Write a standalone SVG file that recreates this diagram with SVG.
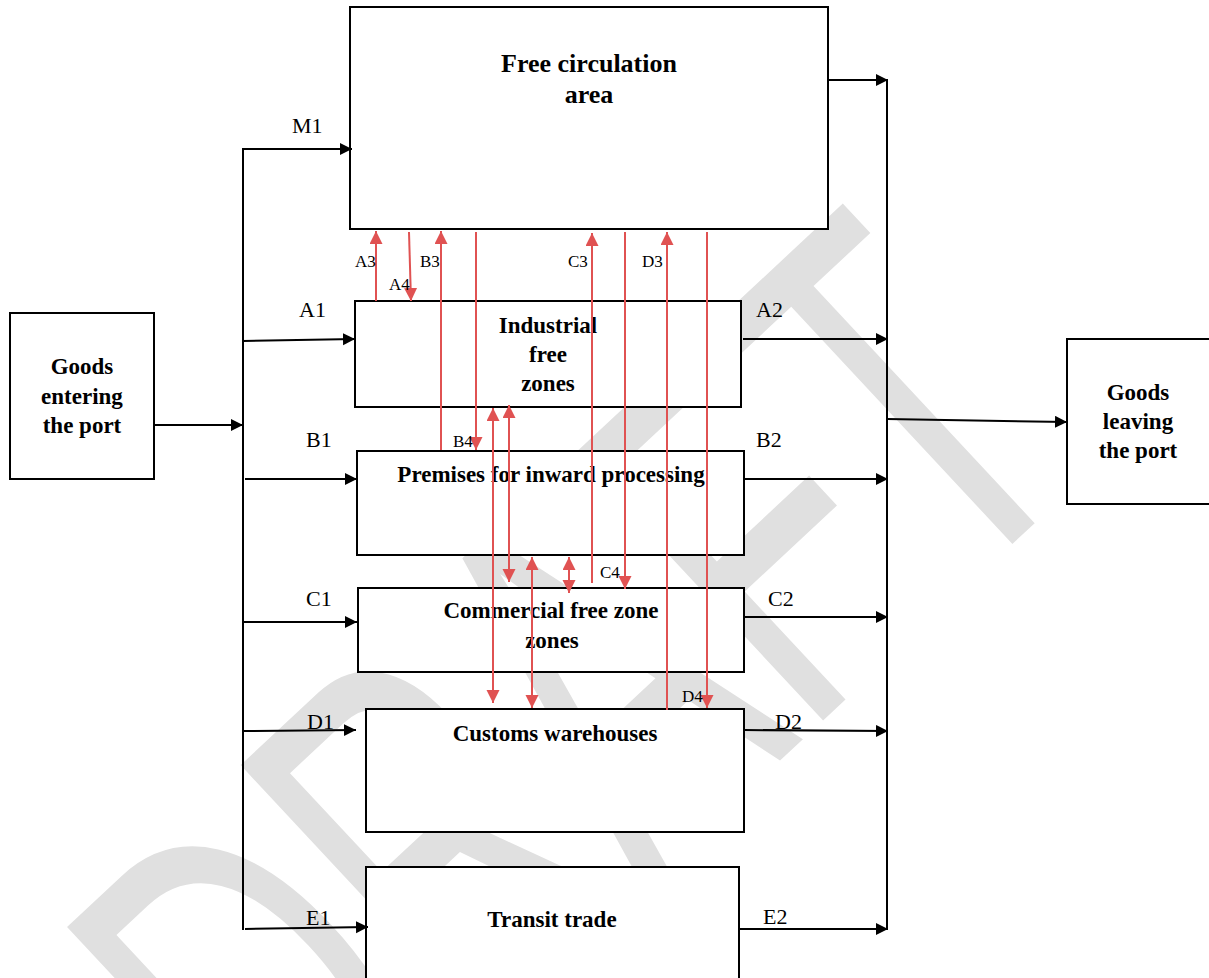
<svg xmlns="http://www.w3.org/2000/svg" width="1209" height="978" viewBox="0 0 1209 978">
<style>
.box{fill:#ffffff;stroke:#000000;stroke-width:2}
.t{font-family:"Liberation Serif","Times New Roman",serif;font-weight:bold;font-size:23px;fill:#000000;text-anchor:middle}
.lb{font-family:"Liberation Serif","Times New Roman",serif;font-size:22px;fill:#000000}
.sl{font-family:"Liberation Serif","Times New Roman",serif;font-size:17px;fill:#000000}
.bk{fill:none;stroke:#000000;stroke-width:2}
.bka{fill:none;stroke:#000000;stroke-width:2;marker-end:url(#ah)}
.rd{fill:none;stroke:#E05252;stroke-width:2;marker-end:url(#rh)}
.rd2{fill:none;stroke:#E05252;stroke-width:2;marker-end:url(#rh);marker-start:url(#rh)}
.wm{font-family:"Liberation Sans",Arial,sans-serif;font-size:530px;fill:#e0e0e0}
</style>
<defs>
<marker id="ah" markerUnits="userSpaceOnUse" markerWidth="13" markerHeight="13" refX="12" refY="6" orient="auto" viewBox="0 0 13 13">
<path d="M0,0 L12,6 L0,12 z" fill="#000000"/>
</marker>
<marker id="rh" markerUnits="userSpaceOnUse" markerWidth="14" markerHeight="14" refX="13" refY="6.5" orient="auto-start-reverse" viewBox="0 0 14 14">
<path d="M0,0 L13,6.5 L0,13 z" fill="#E05252"/>
</marker>
</defs>
<rect x="0" y="0" width="1209" height="978" fill="#ffffff"/>
<g id="watermark">
<text class="wm" transform="translate(296,1212) rotate(-43) scale(0.62,1)">DRAFT</text>
</g>
<g id="node-goods-in">
<rect class="box" x="10" y="313" width="144" height="166"/>
<text class="t" x="82" y="374">Goods</text>
<text class="t" x="82" y="404">entering</text>
<text class="t" x="82" y="433">the port</text>
</g>
<g id="node-free-circulation">
<rect class="box" x="350" y="7" width="478" height="222"/>
<text class="t" x="589" y="72" style="font-size:26px">Free circulation</text>
<text class="t" x="589" y="103" style="font-size:26px">area</text>
</g>
<g id="node-industrial">
<rect class="box" x="355" y="301" width="386" height="106"/>
<text class="t" x="548" y="333">Industrial</text>
<text class="t" x="548" y="362">free</text>
<text class="t" x="548" y="391">zones</text>
</g>
<g id="node-premises">
<rect class="box" x="357" y="451" width="387" height="104"/>
<text class="t" x="551" y="482">Premises for inward processing</text>
</g>
<g id="node-commercial">
<rect class="box" x="358" y="588" width="386" height="84"/>
<text class="t" x="551" y="618">Commercial free zone</text>
<text class="t" x="552" y="648">zones</text>
</g>
<g id="node-customs">
<rect class="box" x="366" y="709" width="378" height="123"/>
<text class="t" x="555" y="741">Customs warehouses</text>
</g>
<g id="node-transit">
<rect class="box" x="366" y="867" width="373" height="130"/>
<text class="t" x="552" y="927">Transit trade</text>
</g>
<g id="node-goods-out">
<rect class="box" x="1067" y="339" width="160" height="165"/>
<text class="t" x="1138" y="400">Goods</text>
<text class="t" x="1138" y="429">leaving</text>
<text class="t" x="1138" y="458">the port</text>
</g>
<g id="connectors">
<line class="bk" x1="243" y1="148" x2="243" y2="930"/>
<line class="bka" x1="154" y1="425" x2="243" y2="425"/>
<line class="bka" x1="243" y1="149" x2="352" y2="149"/>
<line class="bka" x1="243" y1="341" x2="355" y2="339"/>
<line class="bka" x1="245" y1="479" x2="357" y2="479"/>
<line class="bka" x1="243" y1="622" x2="357" y2="622"/>
<line class="bka" x1="243" y1="731" x2="356" y2="730"/>
<line class="bka" x1="245" y1="929" x2="368" y2="927"/>
<line class="bk" x1="887" y1="80" x2="887" y2="930"/>
<line class="bka" x1="828" y1="80" x2="888" y2="80"/>
<line class="bka" x1="743" y1="339" x2="888" y2="339"/>
<line class="bka" x1="744" y1="479" x2="888" y2="479"/>
<line class="bka" x1="744" y1="617" x2="888" y2="617"/>
<line class="bka" x1="744" y1="730" x2="888" y2="731"/>
<line class="bka" x1="739" y1="929" x2="888" y2="929"/>
<line class="bka" x1="887" y1="419" x2="1067" y2="422"/>
<line class="rd" x1="376" y1="301" x2="376" y2="231"/>
<line class="rd" x1="409" y1="232" x2="411" y2="301"/>
<line class="rd" x1="441" y1="450" x2="441" y2="231"/>
<line class="rd" x1="476" y1="232" x2="476" y2="450"/>
<line class="rd2" x1="493" y1="408" x2="493" y2="703"/>
<line class="rd2" x1="509" y1="405" x2="509" y2="582"/>
<line class="rd2" x1="532" y1="557" x2="532" y2="708"/>
<line class="rd2" x1="569" y1="557" x2="569" y2="593"/>
<line class="rd" x1="592" y1="583" x2="592" y2="233"/>
<line class="rd" x1="625" y1="232" x2="625" y2="589"/>
<line class="rd" x1="667" y1="710" x2="667" y2="232"/>
<line class="rd" x1="707" y1="232" x2="707" y2="708"/>
</g>
<g id="labels">
<text class="lb" x="292" y="133">M1</text>
<text class="lb" x="299" y="317">A1</text>
<text class="lb" x="306" y="447">B1</text>
<text class="lb" x="306" y="606">C1</text>
<text class="lb" x="307" y="729">D1</text>
<text class="lb" x="306" y="925">E1</text>
<text class="lb" x="756" y="317">A2</text>
<text class="lb" x="756" y="447">B2</text>
<text class="lb" x="768" y="606">C2</text>
<text class="lb" x="775" y="729">D2</text>
<text class="lb" x="763" y="924">E2</text>
<text class="sl" x="355" y="267">A3</text>
<text class="sl" x="389" y="290">A4</text>
<text class="sl" x="420" y="267">B3</text>
<text class="sl" x="568" y="267">C3</text>
<text class="sl" x="642" y="267">D3</text>
<text class="sl" x="453" y="447">B4</text>
<text class="sl" x="600" y="578">C4</text>
<text class="sl" x="682" y="702">D4</text>
</g>
</svg>
